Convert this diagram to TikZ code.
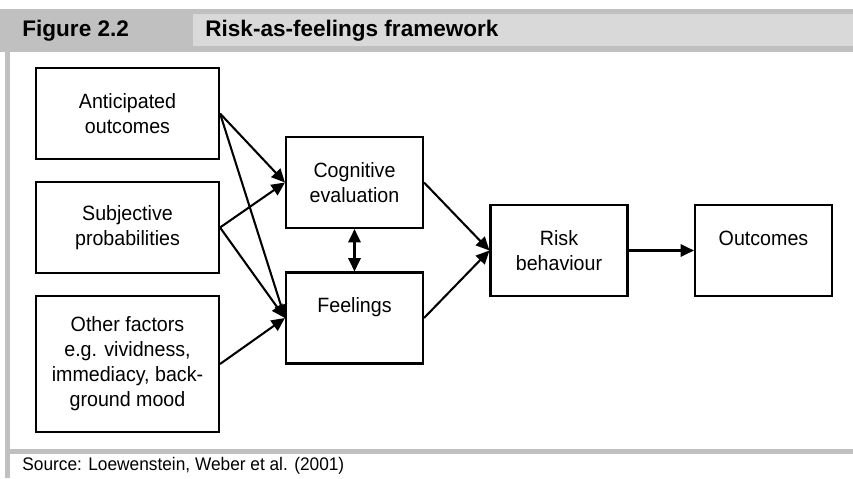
\documentclass[tikz,border=0pt]{standalone}
\usepackage{fontspec}
\setmainfont{Liberation Sans}[FakeStretch=0.95]
\newfontfamily\headfont{Liberation Sans}
\usetikzlibrary{arrows.meta,positioning}
\definecolor{framegray}{RGB}{192,192,192}
\definecolor{titlegray}{RGB}{217,217,217}

\begin{document}
\begin{tikzpicture}[
    x=0.017cm, y=-0.017cm,
    box/.style={rectangle, draw, line width=1pt, minimum width=3.111cm, minimum height=1.547cm, align=center, inner sep=0pt, font=\fontsize{10}{12.1}\selectfont},
    midbox/.style={box, minimum width=2.329cm},
    arrow/.style={-{Triangle[length=6.5pt,width=6pt]}, line width=1pt},
    head/.style={anchor=west, inner sep=0pt, font=\headfont\bfseries\fontsize{10.9}{13}\selectfont}
]
\useasboundingbox (0,0) rectangle (853,478);

% Frame
\fill[framegray] (0,9) rectangle (853,52);
\fill[titlegray] (193,14) rectangle (853,46);
\fill[framegray] (5,52) rectangle (10,478);
\fill[framegray] (5,449) rectangle (853,454);

\node[head] (fig) at (22,31) {Figure 2.2};
\node[head] (title) at (205,31) {Risk-as-feelings framework};

% Inputs
\node[box] (ant) at (127.5,113.5) {Anticipated\\outcomes};
\node[box] (subj) at (127.5,227.5) {Subjective\\probabilities};
\node[box, minimum height=2.312cm] (other) at (127.5,364) {Other factors\\e.g. vividness,\\immediacy, back-\\ground mood};

% Middle
\node[midbox] (cog) at (354.5,182.5) {Cognitive\\evaluation};
\node[midbox] (feel) at (354.5,318) {Feelings\\~};

% Right
\node[midbox] (risk) at (559,250.5) {Risk\\behaviour};
\node[midbox] (out) at (763.5,250.5) {Outcomes\\~};

% Edges
\draw[arrow] (ant.east) -- (cog.west);
\draw[arrow] (ant.east) -- (feel.west);
\draw[arrow] (subj.east) -- (cog.west);
\draw[arrow] (subj.east) -- (feel.west);
\draw[arrow] (other.east) -- (feel.west);
\draw[arrow, {Triangle[length=6.5pt,width=6pt]}-{Triangle[length=6.5pt,width=6pt]}] (cog) -- (feel);
\draw[arrow] (cog.east) -- (risk.west);
\draw[arrow] (feel.east) -- (risk.west);
\draw[arrow] (risk) -- (out);

% Source
\node[anchor=west, inner sep=0pt, font=\fontsize{8.8}{10}\selectfont] (src) at (22,466) {Source: Loewenstein, Weber et al. (2001)};

\end{tikzpicture}
\end{document}
